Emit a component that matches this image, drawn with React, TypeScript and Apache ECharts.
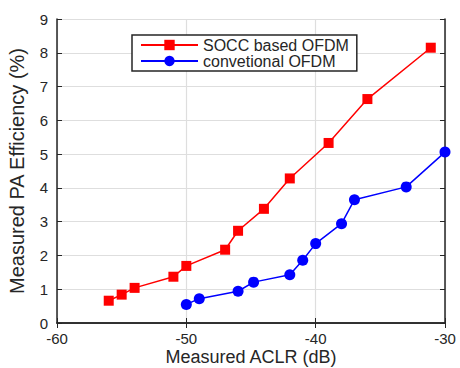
import React, { useEffect, useRef } from "react";
import * as echarts from "echarts";

const xTicks = [-60, -50, -40, -30];
const soccX = [-56, -55, -54, -51, -50, -47, -46, -44, -42, -39, -36, -31.1];
const soccY = [0.66, 0.84, 1.04, 1.37, 1.69, 2.17, 2.73, 3.38, 4.28, 5.33, 6.63, 8.15];
const convX = [-50, -49, -46, -44.8, -42, -41, -40, -38, -37, -33, -30];
const convY = [0.55, 0.72, 0.94, 1.21, 1.43, 1.86, 2.35, 2.94, 3.65, 4.03, 5.06];
const seriesNames = ["SOCC based OFDM", "convetional OFDM"];

const FONT = "'Liberation Sans', Arial, Helvetica, sans-serif";
const INK = "#262626";

export default function App() {
  const ref = useRef<HTMLDivElement>(null);
  useEffect(() => {
    if (!ref.current) return;
    const chart = echarts.init(ref.current, undefined, { renderer: "svg" });
    const axisCommon = {
      axisLine: { show: true, lineStyle: { color: INK, width: 1.5 } },
      axisTick: { show: true, inside: true, length: 5, lineStyle: { color: INK, width: 1 } },
    };
    chart.setOption({
      animation: false,
      backgroundColor: "#ffffff",
      textStyle: { fontFamily: FONT },
      grid: { left: 57, right: 15, top: 19, bottom: 45, containLabel: false, outerBoundsMode: "none" },
      legend: {
        orient: "vertical",
        left: 132,
        top: 35,
        width: 227,
        padding: [2, 8, 2, 8],
        itemGap: 0,
        itemWidth: 57,
        itemHeight: 13,
        backgroundColor: "#ffffff",
        borderColor: INK,
        borderWidth: 1.5,
        borderRadius: 0,
        textStyle: { fontSize: 16, color: INK, fontFamily: FONT, padding: [0, 0, 0, 0] },
        data: seriesNames,
      },
      xAxis: [
        {
          type: "value",
          min: -60,
          max: -30,
          interval: 10,
          position: "bottom",
          name: "Measured ACLR (dB)",
          nameLocation: "middle",
          nameGap: 25,
          nameMoveOverlap: false,
          nameTextStyle: { fontSize: 18, color: INK, fontFamily: FONT },
          ...axisCommon,
          axisLabel: {
            fontSize: 15,
            color: INK,
            margin: 8,
            fontFamily: FONT,
            formatter: (v: number) => (xTicks.includes(v) ? String(v) : ""),
          },
          splitLine: { show: true, lineStyle: { color: "#dedede", width: 1.2 } },
        },
        {
          type: "value",
          min: -60,
          max: -30,
          interval: 10,
          position: "top",
          ...axisCommon,
          axisLabel: { show: false },
          splitLine: { show: false },
        },
      ],
      yAxis: [
        {
          type: "value",
          min: 0,
          max: 9,
          interval: 1,
          position: "left",
          name: "Measured PA Efficiency (%)",
          nameLocation: "middle",
          nameGap: 30,
          nameMoveOverlap: false,
          nameTextStyle: { fontSize: 20, color: INK, fontFamily: FONT },
          ...axisCommon,
          axisLabel: { fontSize: 15, color: INK, margin: 9, fontFamily: FONT },
          splitLine: { show: true, lineStyle: { color: "#dedede", width: 1.2 } },
        },
        {
          type: "value",
          min: 0,
          max: 9,
          interval: 1,
          position: "right",
          ...axisCommon,
          axisLabel: { show: false },
          splitLine: { show: false },
        },
      ],
      series: [
        {
          name: seriesNames[0],
          type: "line",
          data: soccX.map((x, i) => [x, soccY[i]]),
          symbol: "rect",
          symbolSize: 10,
          showAllSymbol: true,
          lineStyle: { color: "#ff0000", width: 1.5 },
          itemStyle: { color: "#ff0000" },
          z: 3,
        },
        {
          name: seriesNames[1],
          type: "line",
          data: convX.map((x, i) => [x, convY[i]]),
          symbol: "circle",
          symbolSize: 11,
          showAllSymbol: true,
          lineStyle: { color: "#0000ff", width: 1.5 },
          itemStyle: { color: "#0000ff" },
          z: 3,
        },
      ],
    });
    return () => chart.dispose();
  }, []);
  return <div ref={ref} style={{ width: 460, height: 368, position: "absolute", left: 0, top: 0 }} />;
}
